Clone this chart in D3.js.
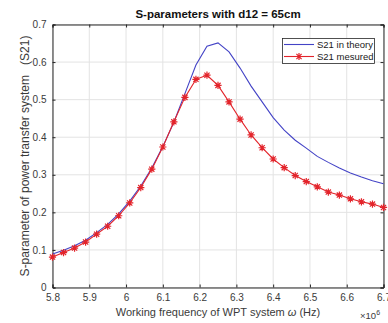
<!DOCTYPE html>
<html>
<head>
<meta charset="utf-8">
<script src="https://cdn.jsdelivr.net/npm/d3@7"></script>
<style>
  html, body { margin: 0; padding: 0; background: #fff; }
  svg { display: block; font-family: "Liberation Sans", Arial, Helvetica, sans-serif; }
</style>
</head>
<body>
<svg id="chart" width="388" height="323"></svg>
<script>
// Frequency samples (MHz) shared by both series
const freqs = [5.80, 5.83, 5.86, 5.89, 5.92, 5.95, 5.98, 6.01, 6.04, 6.07, 6.10,
               6.13, 6.16, 6.19, 6.22, 6.25, 6.28, 6.31, 6.34, 6.37, 6.40, 6.43,
               6.46, 6.49, 6.52, 6.55, 6.58, 6.61, 6.64, 6.67, 6.70];

// Theoretical S21
const s21Theory = [0.089, 0.099, 0.111, 0.126, 0.146, 0.168, 0.196, 0.230, 0.270, 0.318, 0.375,
                   0.440, 0.516, 0.592, 0.642, 0.651, 0.627, 0.584, 0.536, 0.494, 0.452, 0.419,
                   0.392, 0.371, 0.349, 0.333, 0.318, 0.305, 0.294, 0.284, 0.276];

// Measured S21
const s21Measured = [0.081, 0.093, 0.105, 0.121, 0.142, 0.163, 0.191, 0.225, 0.266, 0.315, 0.374,
                     0.441, 0.506, 0.554, 0.565, 0.538, 0.494, 0.448, 0.406, 0.372, 0.342, 0.319,
                     0.298, 0.282, 0.268, 0.254, 0.246, 0.236, 0.228, 0.222, 0.213];

const xTicks = [5.8, 5.9, 6.0, 6.1, 6.2, 6.3, 6.4, 6.5, 6.6, 6.7];
const xTickLabels = ["5.8", "5.9", "6", "6.1", "6.2", "6.3", "6.4", "6.5", "6.6", "6.7"];
const yTicks = [0, 0.1, 0.2, 0.3, 0.4, 0.5, 0.6, 0.7];
const yTickLabels = ["0", "0.1", "0.2", "0.3", "0.4", "0.5", "0.6", "0.7"];

const seriesNames = ["S21 in theory", "S21 mesured"];

const svg = d3.select("#chart");
const plotL = 52.5, plotR = 383.5, plotT = 24.5, plotB = 287.5;

const x = d3.scaleLinear().domain([5.8, 6.7]).range([plotL, plotR]);
const y = d3.scaleLinear().domain([0, 0.7]).range([plotB, plotT]);

const axisColor = "#262626";
const labelColor = "#3a3a3a";
const gridColor = "#e3e3e3";

// Grid
const grid = svg.append("g");
grid.selectAll("line.gx").data(xTicks).join("line")
  .attr("x1", d => x(d)).attr("x2", d => x(d))
  .attr("y1", plotT).attr("y2", plotB)
  .attr("stroke", gridColor).attr("stroke-width", 1);
grid.selectAll("line.gy").data(yTicks).join("line")
  .attr("y1", d => y(d)).attr("y2", d => y(d))
  .attr("x1", plotL).attr("x2", plotR)
  .attr("stroke", gridColor).attr("stroke-width", 1);

// Axes
const xAxis = d3.axisBottom(x).tickValues(xTicks)
  .tickFormat((d, i) => xTickLabels[i]).tickSize(-3).tickPadding(6);
const yAxis = d3.axisLeft(y).tickValues(yTicks)
  .tickFormat((d, i) => yTickLabels[i]).tickSize(-3).tickPadding(6);

const gx = svg.append("g").attr("transform", `translate(0,${plotB})`).call(xAxis);
const gy = svg.append("g").attr("transform", `translate(${plotL},0)`).call(yAxis);
const gxTop = svg.append("g").attr("transform", `translate(0,${plotT})`)
  .call(d3.axisTop(x).tickValues(xTicks).tickSize(-3).tickFormat(""));
const gyRight = svg.append("g").attr("transform", `translate(${plotR},0)`)
  .call(d3.axisRight(y).tickValues(yTicks).tickSize(-3).tickFormat(""));

[gx, gy, gxTop, gyRight].forEach(g => {
  g.selectAll("path").attr("stroke", axisColor).attr("stroke-width", 1);
  g.selectAll("line").attr("stroke", axisColor);
  g.selectAll("text").attr("fill", labelColor)
    .style("font-size", "10px")
    .style("font-family", "'Liberation Sans', Arial, sans-serif");
});

// Series
const pts = (vals) => freqs.map((f, i) => [f, vals[i]]);
const line = d3.line().x(d => x(d[0])).y(d => y(d[1]));

const blue = "#4343c6";
const red = "#e3242b";

svg.append("path").datum(pts(s21Theory))
  .attr("d", line).attr("fill", "none")
  .attr("stroke", blue).attr("stroke-width", 1.1);

svg.append("path").datum(pts(s21Measured))
  .attr("d", line).attr("fill", "none")
  .attr("stroke", red).attr("stroke-width", 1.1);

// Asterisk marker: plus + cross
function asterisk(r) {
  const k = r * 0.72;
  return `M${-r},0L${r},0M0,${-r}L0,${r}M${-k},${-k}L${k},${k}M${-k},${k}L${k},${-k}`;
}

svg.append("g").selectAll("path").data(pts(s21Measured)).join("path")
  .attr("transform", d => `translate(${x(d[0])},${y(d[1])})`)
  .attr("d", asterisk(3.6))
  .attr("fill", "none").attr("stroke", red).attr("stroke-width", 1.2);

// Legend
const lg = svg.append("g");
lg.append("rect").attr("x", 282.5).attr("y", 38.5).attr("width", 92).attr("height", 25)
  .attr("fill", "#fff").attr("stroke", axisColor).attr("stroke-width", 0.8);
const legendRows = [
  { name: seriesNames[0], color: blue, marker: false, yy: 44.5 },
  { name: seriesNames[1], color: red, marker: true, yy: 56.5 }
];
legendRows.forEach(r => {
  lg.append("line").attr("x1", 284).attr("x2", 314).attr("y1", r.yy).attr("y2", r.yy)
    .attr("stroke", r.color).attr("stroke-width", 1.1);
  if (r.marker) {
    lg.append("path").attr("transform", `translate(299,${r.yy})`)
      .attr("d", asterisk(3.6)).attr("fill", "none")
      .attr("stroke", r.color).attr("stroke-width", 1.2);
  }
  lg.append("text").attr("x", 317).attr("y", r.yy + 3.5)
    .attr("fill", "#1a1a1a").style("font-size", "9.5px").text(r.name);
});

// Title
svg.append("text").attr("x", (plotL + plotR) / 2).attr("y", 18)
  .attr("text-anchor", "middle").attr("fill", "#111")
  .style("font-size", "11.5px").style("font-weight", "bold")
  .text("S-parameters with d12 = 65cm");

// X label
const xl = svg.append("text").attr("x", (plotL + plotR) / 2).attr("y", 316)
  .attr("text-anchor", "middle").attr("fill", labelColor).style("font-size", "11px");
xl.append("tspan").text("Working frequency of WPT system ");
xl.append("tspan").style("font-style", "italic").text("ω");
xl.append("tspan").text(" (Hz)");

// Exponent
const ex = svg.append("text").attr("x", 360).attr("y", 319)
  .attr("fill", labelColor).style("font-size", "9.5px");
ex.append("tspan").text("×10");
ex.append("tspan").attr("dy", -4).style("font-size", "7px").text("6");

// Y label
svg.append("text")
  .attr("transform", `translate(29,${(plotT + plotB) / 2}) rotate(-90)`)
  .attr("text-anchor", "middle").attr("fill", labelColor).style("font-size", "12px")
  .attr("xml:space", "preserve")
  .text("S-parameter of power transfer system   (S21)");
</script>
</body>
</html>
